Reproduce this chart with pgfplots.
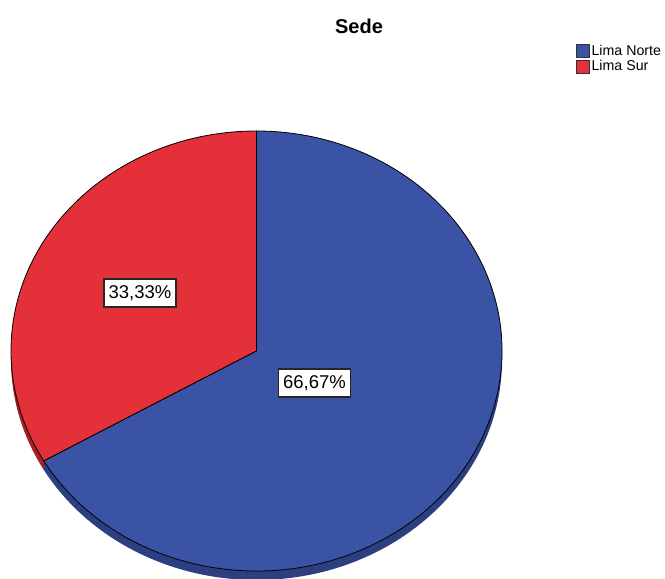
\documentclass[border=0pt]{standalone}
\usepackage{pgfplots}
\usepackage{pgfplotstable}
\usepackage{fontspec}
\setmainfont{Liberation Sans}
\pgfplotsset{compat=1.18}
\definecolor{pieblue}{RGB}{58,83,164}
\definecolor{piered}{RGB}{228,48,56}
\definecolor{sideblue}{RGB}{44,63,128}
\definecolor{sidered}{RGB}{168,32,38}
\pgfplotsset{sqlegend/.style={legend image code/.code={\draw[##1] (0pt,-6.5pt) rectangle (13pt,6.5pt);}}}
\pgfplotstableread{
label value
{Lima Norte} 66.67
{Lima Sur} 33.33
}\piedata
\pgfplotstablegetelem{0}{value}\of\piedata \let\vNorte\pgfplotsretval
\pgfplotstablegetelem{1}{value}\of\piedata \let\vSur\pgfplotsretval
\pgfmathsetmacro{\aStart}{90}
\pgfmathsetmacro{\aMid}{90+3.6*\vSur}
\pgfmathsetmacro{\aEnd}{\aMid+3.6*\vNorte}
\begin{document}
\begin{tikzpicture}
\begin{axis}[
  width=665pt, height=579pt, scale only axis,
  xmin=0, xmax=665, ymin=0, ymax=579,
  hide axis, clip=true,
  legend style={at={(axis cs:576,536)}, anchor=north west, draw=none, fill=none,
    font=\fontsize{14.2}{16}\selectfont, inner sep=0pt, row sep=-0.5pt,
    /tikz/every even column/.append style={column sep=2pt}},
  legend cell align=left,
]
\path (axis cs:0,0) rectangle (axis cs:665,579);
\addlegendimage{sqlegend, fill=pieblue, draw=black!80}
\addlegendentry{Lima Norte}
\addlegendimage{sqlegend, fill=piered, draw=black!80}
\addlegendentry{Lima Sur}
% side (3D depth)
\fill[sidered] (axis cs:256.5,228) ++(180:245.5pt and 220pt) arc[start angle=180,end angle=\aMid,x radius=245.5pt,y radius=220pt] -- ++(0,-9pt) arc[start angle=\aMid,end angle=180,x radius=245.5pt,y radius=220pt] -- cycle;
\fill[sideblue] (axis cs:256.5,228) ++(\aMid:245.5pt and 220pt) arc[start angle=\aMid,end angle=360,x radius=245.5pt,y radius=220pt] -- ++(0,-9pt) arc[start angle=360,end angle=\aMid,x radius=245.5pt,y radius=220pt] -- cycle;
% top faces
\filldraw[fill=piered, draw=black, line width=0.8pt] (axis cs:256.5,228) -- ++(\aStart:245.5pt and 220pt) arc[start angle=\aStart,end angle=\aMid,x radius=245.5pt,y radius=220pt] -- cycle;
\filldraw[fill=pieblue, draw=black, line width=0.8pt] (axis cs:256.5,228) -- ++(\aMid:245.5pt and 220pt) arc[start angle=\aMid,end angle=\aEnd,x radius=245.5pt,y radius=220pt] -- cycle;
% labels
\node[draw=black!85, line width=1.2pt, fill=white, minimum width=72pt, minimum height=28pt, inner sep=0pt, font=\fontsize{18.5}{21}\selectfont] at (axis cs:140,286) {33,33\%};
\node[draw=black!85, line width=1.2pt, fill=white, minimum width=72pt, minimum height=28pt, inner sep=0pt, font=\fontsize{18.5}{21}\selectfont] at (axis cs:314.5,196) {66,67\%};
% title
\node[font=\fontsize{20}{24}\selectfont\bfseries] at (axis cs:359,553) {Sede};
\end{axis}
\end{tikzpicture}
\end{document}
